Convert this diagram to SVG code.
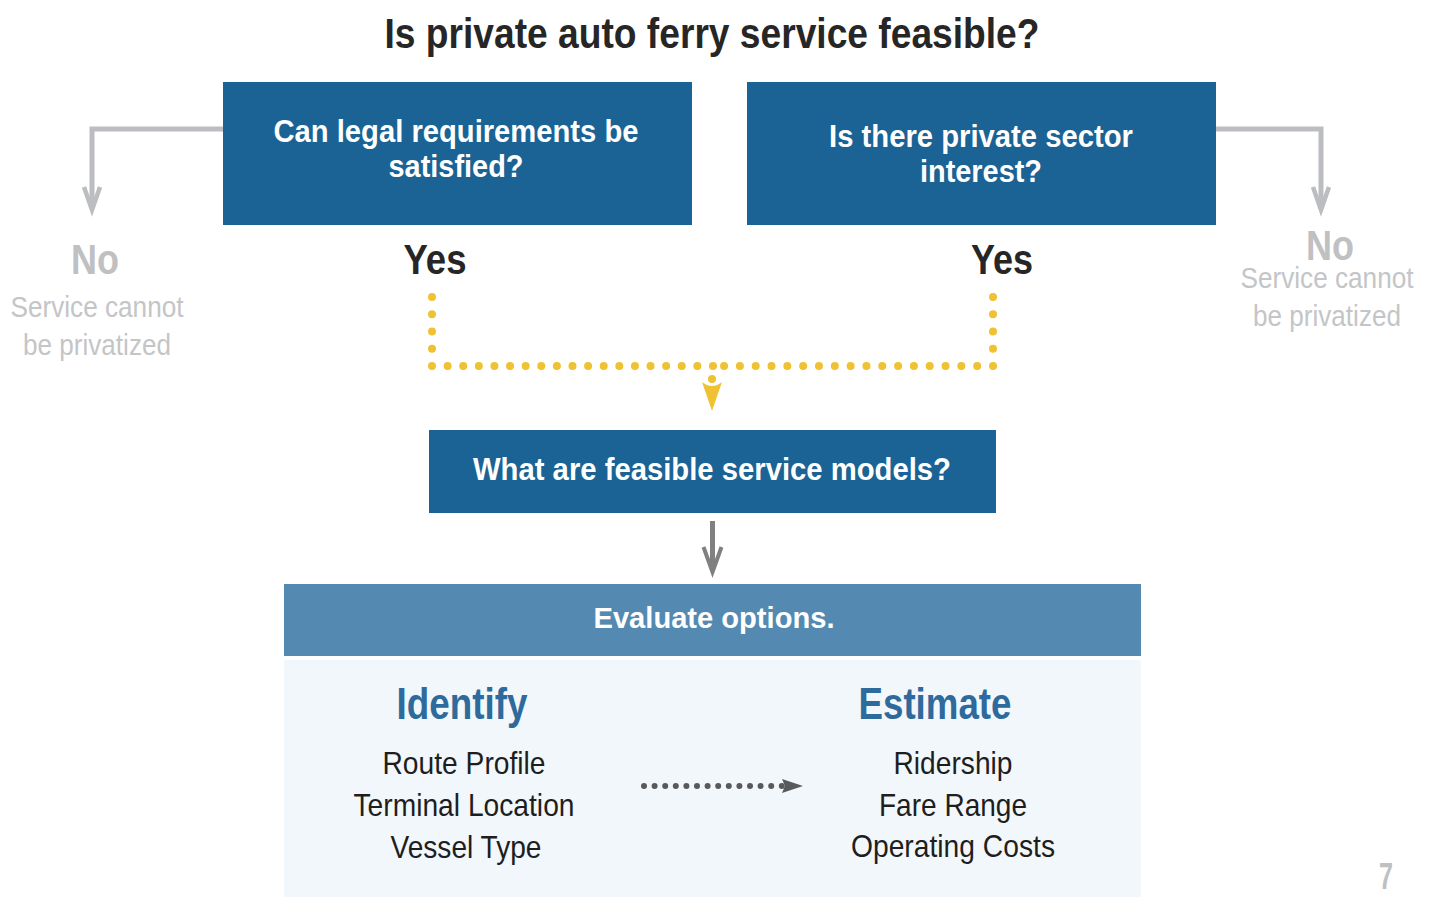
<svg xmlns="http://www.w3.org/2000/svg" width="1431" height="897" viewBox="0 0 1431 897">
<defs>
<style>
text{font-family:"Liberation Sans",Arial,sans-serif;text-anchor:middle}
.box{fill:#1b6394}
.bt{fill:#fff;font-weight:bold;font-size:31px}
.title{fill:#262626;font-weight:bold;font-size:43px}
.yes{fill:#262626;font-weight:bold;font-size:42px}
.no{fill:#bfc0c2;font-weight:bold;font-size:42px}
.nosub{fill:#c4c5c7;font-size:30px}
.head{fill:#2f6a9d;font-weight:bold;font-size:44px}
.item{fill:#1e1e1e;font-size:32px}
.grey{fill:none;stroke:#bcbdc0;stroke-width:5}
.ydot{fill:none;stroke:#eec232;stroke-width:8;stroke-linecap:round}
</style>
</defs>
<rect width="1431" height="897" fill="#fff"/>
<text class="title" x="712" y="48" textLength="655" lengthAdjust="spacingAndGlyphs">Is private auto ferry service feasible?</text>

<g id="legal">
<rect class="box" x="223" y="82" width="469" height="143"/>
<text class="bt" x="456" y="142" textLength="365" lengthAdjust="spacingAndGlyphs">Can legal requirements be</text>
<text class="bt" x="456" y="177" textLength="135" lengthAdjust="spacingAndGlyphs">satisfied?</text>
</g>
<g id="interest">
<rect class="box" x="747" y="82" width="469" height="143"/>
<text class="bt" x="981" y="147" textLength="304" lengthAdjust="spacingAndGlyphs">Is there private sector</text>
<text class="bt" x="981" y="182" textLength="122" lengthAdjust="spacingAndGlyphs">interest?</text>
</g>
<g id="models">
<rect class="box" x="429" y="430" width="567" height="83"/>
<text class="bt" x="712" y="480" textLength="478" lengthAdjust="spacingAndGlyphs">What are feasible service models?</text>
</g>
<g id="no-left">
<text class="no" x="95" y="274" textLength="48" lengthAdjust="spacingAndGlyphs">No</text>
<text class="nosub" x="97" y="317" textLength="173" lengthAdjust="spacingAndGlyphs">Service cannot</text>
<text class="nosub" x="97" y="355" textLength="148" lengthAdjust="spacingAndGlyphs">be privatized</text>
</g>
<g id="no-right">
<text class="no" x="1330" y="260" textLength="48" lengthAdjust="spacingAndGlyphs">No</text>
<text class="nosub" x="1327" y="288" textLength="173" lengthAdjust="spacingAndGlyphs">Service cannot</text>
<text class="nosub" x="1327" y="326" textLength="148" lengthAdjust="spacingAndGlyphs">be privatized</text>
</g>
<g id="yes-left"><text class="yes" x="435" y="274" textLength="63" lengthAdjust="spacingAndGlyphs">Yes</text></g>
<g id="yes-right"><text class="yes" x="1002" y="274" textLength="62" lengthAdjust="spacingAndGlyphs">Yes</text></g>

<g id="evaluate">
<rect x="284" y="584" width="857" height="72" fill="#548ab2"/>
<text class="bt" x="714" y="628" style="font-size:29px" textLength="241" lengthAdjust="spacingAndGlyphs">Evaluate options.</text>
<rect x="284" y="660" width="857" height="237" fill="#f2f7fb"/>
</g>
<g id="identify">
<text class="head" x="462" y="719" textLength="131" lengthAdjust="spacingAndGlyphs">Identify</text>
<text class="item" x="464" y="774" textLength="163" lengthAdjust="spacingAndGlyphs">Route Profile</text>
<text class="item" x="464" y="816" textLength="221" lengthAdjust="spacingAndGlyphs">Terminal Location</text>
<text class="item" x="466" y="858" textLength="151" lengthAdjust="spacingAndGlyphs">Vessel Type</text>
</g>
<g id="estimate">
<text class="head" x="935" y="719" textLength="153" lengthAdjust="spacingAndGlyphs">Estimate</text>
<text class="item" x="953" y="774" textLength="119" lengthAdjust="spacingAndGlyphs">Ridership</text>
<text class="item" x="953" y="816" textLength="148" lengthAdjust="spacingAndGlyphs">Fare Range</text>
<text class="item" x="953" y="857" textLength="204" lengthAdjust="spacingAndGlyphs">Operating Costs</text>
</g>
<text x="1386" y="889" style="fill:#bfc0c2;font-weight:bold;font-size:36px" textLength="14" lengthAdjust="spacingAndGlyphs">7</text>

<g id="connectors">
<path class="grey" d="M223 129 H92 V209"/>
<path d="M84 187 L92 210 L100 187" fill="none" stroke="#bcbdc0" stroke-width="4.5"/>
<path class="grey" d="M1216 129 H1321 V209"/>
<path d="M1313 187 L1321 210 L1329 187" fill="none" stroke="#bcbdc0" stroke-width="4.5"/>
<path class="ydot" d="M432 297 V366" stroke-dasharray="0 17.25"/>
<path class="ydot" d="M993 297 V366" stroke-dasharray="0 17.25"/>
<path class="ydot" d="M432 366 H713" stroke-dasharray="0 15.61"/>
<path class="ydot" d="M993 366 H724" stroke-dasharray="0 15.82"/>
<circle cx="712" cy="379" r="4" fill="#eec232"/>
<path d="M702 382 Q712 390 722 382 L712 411 Z" fill="#eec232"/>
<line x1="712.5" y1="521" x2="712.5" y2="568" stroke="#808080" stroke-width="5"/>
<path d="M703.5 547 L712.5 572 L721.5 547" fill="none" stroke="#808080" stroke-width="4"/>
<line x1="644" y1="786" x2="782" y2="786" stroke="#58595b" stroke-width="6" stroke-linecap="round" stroke-dasharray="0 10.6"/>
<path d="M782 779 L803 786 L782 793 L785 786 Z" fill="#58595b"/>
</g>
</svg>
